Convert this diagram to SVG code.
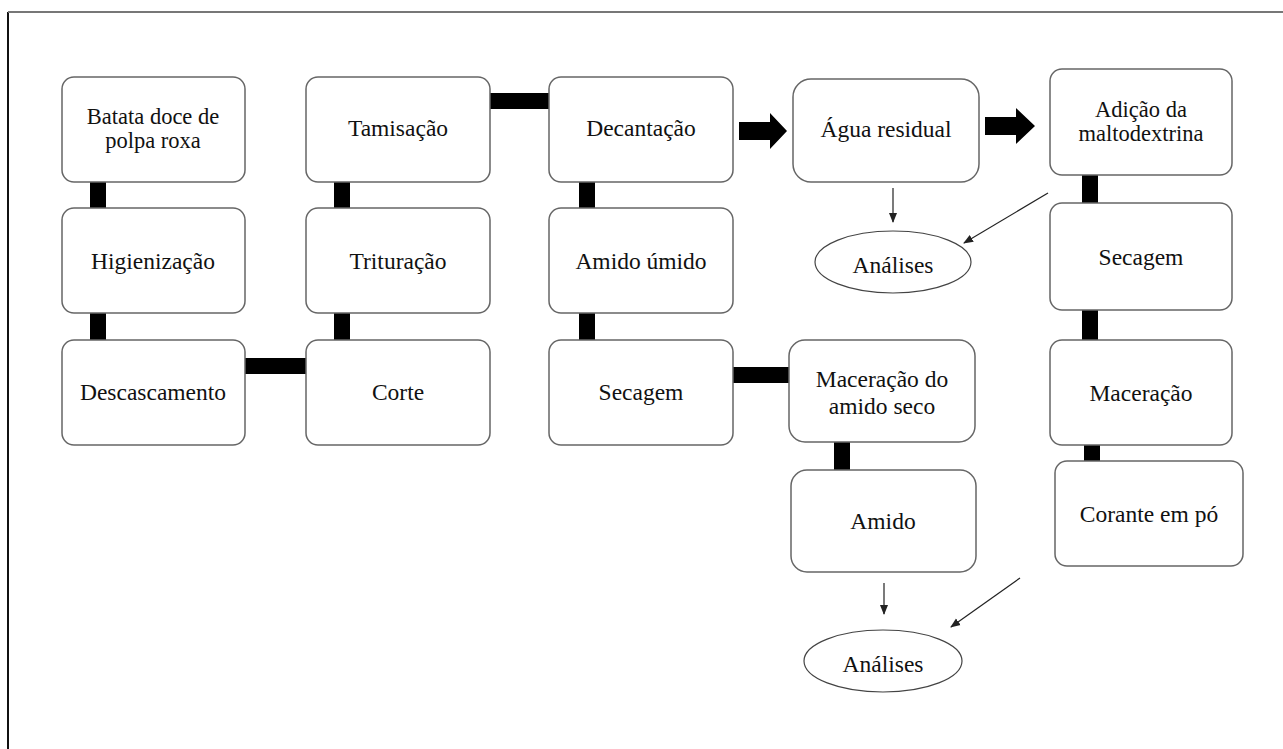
<svg xmlns="http://www.w3.org/2000/svg" width="1283" height="749" viewBox="0 0 1283 749">
<defs>
<style>
.box{fill:#fff;stroke:#666;stroke-width:1.5}
.ell{fill:#fff;stroke:#444;stroke-width:1.2}
.t{font-family:"Liberation Serif","Times New Roman",serif;font-size:23.5px;fill:#111;text-anchor:middle}
.t2{font-size:22.5px}
.bar{fill:#000}
.thin{stroke:#222;stroke-width:1.2;fill:none;marker-end:url(#ah)}
</style>
<marker id="ah" markerWidth="10" markerHeight="10" refX="9" refY="5" orient="auto" markerUnits="userSpaceOnUse">
<path d="M0,1 L10,5 L0,9 Z" fill="#222"/>
</marker>
</defs>
<rect width="1283" height="749" fill="#fff"/>
<path d="M8,749 L8,12" stroke="#111" stroke-width="2" fill="none"/>
<path d="M8,12 L1283,12" stroke="#777" stroke-width="2" fill="none"/>

<g id="connectors">
<rect class="bar" x="90" y="181" width="16" height="28"/>
<rect class="bar" x="90" y="312" width="16" height="29"/>
<rect class="bar" x="244" y="358" width="63" height="16"/>
<rect class="bar" x="334" y="181" width="16" height="28"/>
<rect class="bar" x="334" y="312" width="16" height="29"/>
<rect class="bar" x="489" y="93" width="61" height="16"/>
<rect class="bar" x="579" y="181" width="16" height="28"/>
<rect class="bar" x="579" y="312" width="16" height="29"/>
<rect class="bar" x="732" y="367" width="58" height="16"/>
<rect class="bar" x="834" y="441" width="16" height="30"/>
<rect class="bar" x="1082" y="174" width="16" height="30"/>
<rect class="bar" x="1082" y="309" width="16" height="32"/>
<rect class="bar" x="1084" y="444" width="16" height="18"/>
<path class="bar" d="M739,122 L770,122 L770,113 L787,131 L770,149 L770,140 L739,140 Z"/>
<path class="bar" d="M985,117 L1016,117 L1016,108 L1035,126 L1016,144 L1016,135 L985,135 Z"/>
<path class="thin" d="M893,188 L893,222"/>
<path class="thin" d="M1048,193 L964,243"/>
<path class="thin" d="M884,583 L884,614"/>
<path class="thin" d="M1020,578 L951,627"/>
</g>

<g id="n-batata"><rect class="box" x="62" y="77" width="183" height="105" rx="12"/><text class="t t2" x="153" y="124">Batata doce de</text><text class="t t2" x="153" y="148">polpa roxa</text></g>
<g id="n-higienizacao"><rect class="box" x="62" y="208" width="183" height="105" rx="12"/><text class="t" x="153" y="269">Higienização</text></g>
<g id="n-descascamento"><rect class="box" x="62" y="340" width="183" height="105" rx="12"/><text class="t" x="153" y="400">Descascamento</text></g>
<g id="n-tamisacao"><rect class="box" x="306" y="77" width="184" height="105" rx="12"/><text class="t" x="398" y="136">Tamisação</text></g>
<g id="n-trituracao"><rect class="box" x="306" y="208" width="184" height="105" rx="12"/><text class="t" x="398" y="269">Trituração</text></g>
<g id="n-corte"><rect class="box" x="306" y="340" width="184" height="105" rx="12"/><text class="t" x="398" y="400">Corte</text></g>
<g id="n-decantacao"><rect class="box" x="549" y="77" width="184" height="105" rx="12"/><text class="t" x="641" y="136">Decantação</text></g>
<g id="n-amido-umido"><rect class="box" x="549" y="208" width="184" height="105" rx="12"/><text class="t" x="641" y="269">Amido úmido</text></g>
<g id="n-secagem1"><rect class="box" x="549" y="340" width="184" height="105" rx="12"/><text class="t" x="641" y="400">Secagem</text></g>
<g id="n-agua"><rect class="box" x="793" y="79" width="186" height="103" rx="18"/><text class="t" x="886" y="137">Água residual</text></g>
<g id="n-analises1"><ellipse class="ell" cx="893" cy="262" rx="78" ry="31"/><text class="t" x="893" y="273">Análises</text></g>
<g id="n-maceracao-amido"><rect class="box" x="789" y="340" width="186" height="102" rx="16"/><text class="t" x="882" y="387">Maceração do</text><text class="t" x="882" y="414">amido seco</text></g>
<g id="n-amido"><rect class="box" x="791" y="470" width="185" height="102" rx="16"/><text class="t" x="883" y="529">Amido</text></g>
<g id="n-analises2"><ellipse class="ell" cx="883" cy="661" rx="79" ry="31"/><text class="t" x="883" y="672">Análises</text></g>
<g id="n-adicao"><rect class="box" x="1050" y="69" width="182" height="106" rx="12"/><text class="t t2" x="1141" y="117">Adição da</text><text class="t t2" x="1141" y="141">maltodextrina</text></g>
<g id="n-secagem2"><rect class="box" x="1050" y="203" width="182" height="107" rx="12"/><text class="t" x="1141" y="265">Secagem</text></g>
<g id="n-maceracao"><rect class="box" x="1050" y="340" width="182" height="105" rx="12"/><text class="t" x="1141" y="401">Maceração</text></g>
<g id="n-corante"><rect class="box" x="1055" y="461" width="188" height="105" rx="12"/><text class="t" x="1149" y="522">Corante em pó</text></g>
</svg>
